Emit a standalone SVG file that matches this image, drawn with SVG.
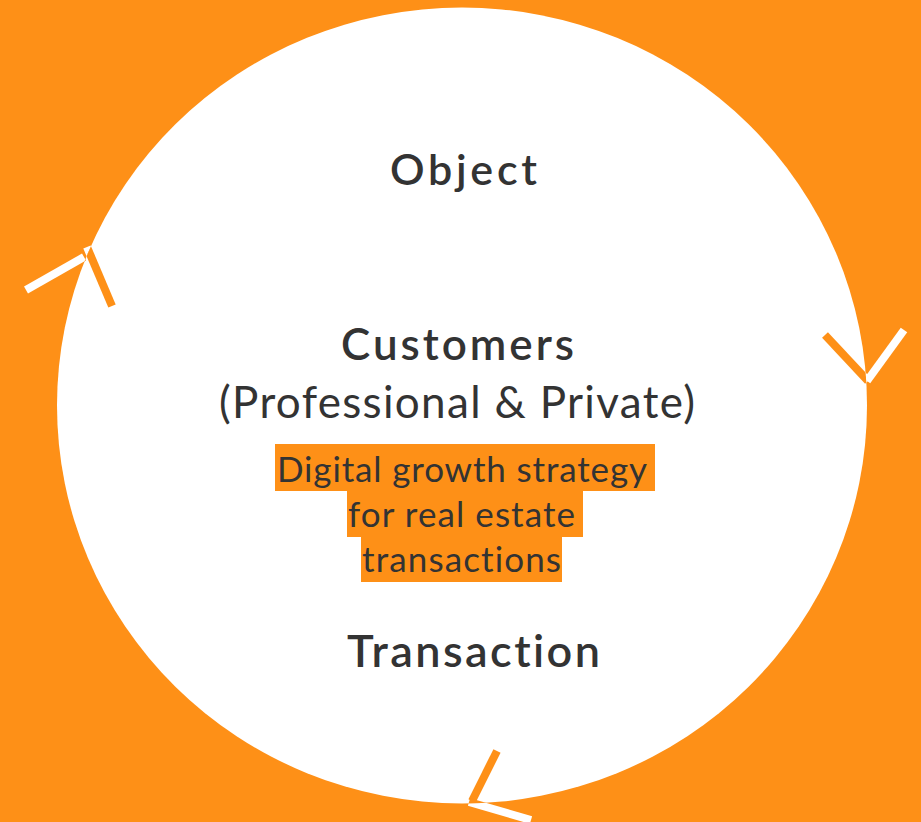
<svg xmlns="http://www.w3.org/2000/svg" width="921" height="822" viewBox="0 0 921 822">
  <style>
    text { font-variant-ligatures: none; }
    .title { font-family: Lato, "Open Sans", sans-serif; font-weight: 600; fill: #333333; }
    .sub { font-family: Lato, "Open Sans", sans-serif; font-weight: 400; fill: #333333; }
    .hl { fill: #FE9017; }
    .outer { stroke: #FFFFFF; stroke-width: 8; stroke-linecap: butt; fill: none; }
    .inner { stroke: #FE9017; stroke-width: 8; stroke-linecap: butt; fill: none; }
  </style>
  <defs>
    <!-- region inside the circle -->
    <clipPath id="inside">
      <ellipse cx="462" cy="405.5" rx="405" ry="398"/>
    </clipPath>
    <!-- region outside the circle -->
    <clipPath id="outside">
      <path clip-rule="evenodd" d="M-10,-10 H931 V832 H-10 Z M57,405.5 A405,398 0 1,0 867,405.5 A405,398 0 1,0 57,405.5 Z"/>
    </clipPath>
    <!-- the three cycle arrows; colour flips where they cross the circle -->
    <g id="chevrons">
      <line x1="26" y1="290" x2="84" y2="257"/>
      <line x1="87" y1="247" x2="112" y2="306"/>
      <line x1="825" y1="335" x2="868" y2="381"/>
      <line x1="867" y1="381" x2="904" y2="330"/>
      <line x1="497" y1="751" x2="472" y2="801"/>
      <line x1="469" y1="802" x2="531" y2="820"/>
    </g>
  </defs>

  <rect width="921" height="822" fill="#FE9017"/>
  <ellipse cx="462" cy="405.5" rx="405" ry="398" fill="#FFFFFF"/>

  <g id="connectors">
    <g class="outer" clip-path="url(#outside)"><use href="#chevrons"/></g>
    <g class="inner" clip-path="url(#inside)"><use href="#chevrons"/></g>
  </g>

  <g id="object">
    <text class="title" x="390" y="185" font-size="43" textLength="147" lengthAdjust="spacing">Object</text>
  </g>

  <g id="customers">
    <text class="title" x="341" y="360" font-size="44" textLength="233" lengthAdjust="spacing">Customers</text>
    <text class="sub" x="219" y="418" font-size="44" textLength="476" lengthAdjust="spacing">(Professional &amp; Private)</text>
  </g>

  <g id="strategy">
    <rect class="hl" x="275" y="444" width="380" height="47"/>
    <rect class="hl" x="347" y="490" width="236" height="47"/>
    <rect class="hl" x="361" y="536" width="201" height="46"/>
    <text class="sub" x="277" y="482" font-size="35" textLength="370" lengthAdjust="spacing">Digital growth strategy</text>
    <text class="sub" x="348" y="527" font-size="35" textLength="227" lengthAdjust="spacing">for real estate</text>
    <text class="sub" x="362" y="572" font-size="35" textLength="199" lengthAdjust="spacing">transactions</text>
  </g>

  <g id="transaction">
    <text class="title" x="347" y="667" font-size="45" textLength="253" lengthAdjust="spacing">Transaction</text>
  </g>
</svg>
